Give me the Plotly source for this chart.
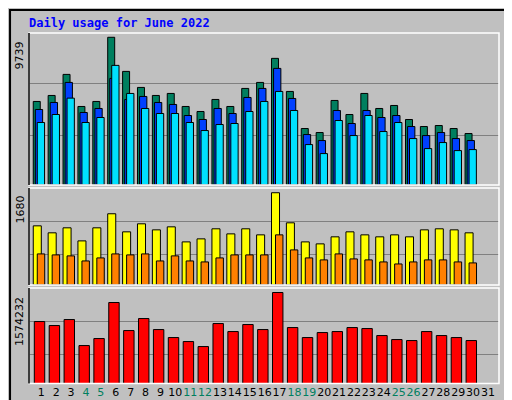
import plotly.graph_objects as go

days = list(range(1, 32))
hits = [5508, 5904, 7292, 5177, 5508, 9739, 7490, 6433, 5904, 6036, 5177, 4847, 5640, 5177, 6367,
        6763, 8349, 6168, 3723, 3459, 5574, 4648, 6036, 5045, 5243, 4318, 3855, 3921, 3723, 3393]
files = [4979, 5441, 6763, 4781, 5045, 7028, 5640, 5838, 5441, 5309, 4582, 4318, 5045, 4714, 5772,
         6367, 7688, 5706, 3327, 2930, 4913, 4054, 4913, 4450, 4582, 3855, 3260, 3459, 3062, 2930]
pages = [4120, 4648, 5728, 4120, 4450, 7887, 6036, 5045, 4714, 4714, 4120, 3591, 3987, 4054, 4847,
         5508, 6168, 4913, 2666, 2071, 4252, 3260, 4582, 3525, 4120, 3062, 2401, 2798, 2269, 2335]
visits = [1077, 950, 1041, 803, 1041, 1297, 968, 1114, 1004, 1059, 785, 840, 1023, 931, 1023,
          913, 1680, 1132, 785, 749, 877, 968, 913, 877, 913, 877, 1004, 1023, 1004, 950]
sites = [566, 548, 530, 438, 493, 566, 548, 566, 438, 530, 438, 420, 493, 548, 548,
         548, 913, 639, 493, 457, 566, 475, 457, 420, 383, 420, 457, 457, 420, 402]
kbytes = [1072476, 1003284, 1107072, 657324, 778410, 1401138, 916794, 1124370, 934092, 795708,
          726516, 640026, 1037880, 899496, 1020582, 934092, 1574232, 968688, 795708, 882198,
          899496, 968688, 951390, 830304, 761112, 743814, 899496, 830304, 795708, 743814]
weekends = [4, 5, 11, 12, 18, 19, 25, 26]

GRAY = "#c0c0c0"
x = days[:30]

fig = go.Figure()

def bars(vals, color, offset, width, axis):
    fig.add_trace(go.Bar(x=x, y=vals, marker=dict(color=color, line=dict(color="black", width=1)),
                         offset=offset, width=width, xaxis="x", yaxis=axis, hoverinfo="y"))

bars(hits, "#007f5f", -0.54, 0.47, "y")
bars(files, "#0040ff", -0.40, 0.49, "y")
bars(pages, "#00e0ff", -0.27, 0.49, "y")
bars(visits, "#ffff00", -0.54, 0.54, "y2")
bars(sites, "#ff8000", -0.27, 0.5, "y2")
bars(kbytes, "#ff0000", -0.47, 0.7, "y3")

ticktext = [f'<span style="color:#007f5f">{d}</span>' if d in weekends else str(d) for d in days]

yax = dict(showticklabels=False, showline=False, zeroline=False, gridcolor="#808080", gridwidth=1,
           fixedrange=True)
fig.update_layout(
    width=512, height=400, margin=dict(l=0, r=0, t=0, b=0),
    paper_bgcolor=GRAY, plot_bgcolor=GRAY, showlegend=False, barmode="overlay",
    font=dict(family="DejaVu Sans", size=11, color="black"),
    xaxis=dict(domain=[21 / 512, 491 / 512], range=[0.174, 31.74], tickvals=days, ticktext=ticktext,
               tickangle=0, ticks="", showgrid=False, zeroline=False, anchor="y3",
               tickfont=dict(size=11)),
    yaxis=dict(domain=[0.5575, 0.9375], range=[0, 10022], tickvals=[3297, 6660], **yax),
    yaxis2=dict(domain=[0.3075, 0.55], range=[0, 1766], tickvals=[548, 1150], **yax),
    yaxis3=dict(domain=[0.061, 0.3], range=[0, 1652101], tickvals=[505000, 1072580], **yax),
)

# panel frames
for y0, y1 in [(0.5575, 0.9375), (0.3075, 0.55), (0.061, 0.3)]:
    fig.add_shape(type="rect", xref="paper", yref="paper", x0=21 / 512, x1=491 / 512, y0=y0, y1=y1,
                  line=dict(color="white", width=1.5))
    fig.add_shape(type="line", xref="paper", yref="paper", x0=21 / 512, x1=21 / 512, y0=y0, y1=y1,
                  line=dict(color="black", width=1.5))

# outer frame
fig.add_shape(type="rect", xref="paper", yref="paper", x0=0.004, x1=0.996, y0=0.005, y1=0.995,
              line=dict(color="black", width=2))
fig.add_shape(type="line", xref="paper", yref="paper", x0=0.99, x1=0.99, y0=0.01, y1=0.985,
              line=dict(color="#808080", width=4))
fig.add_shape(type="line", xref="paper", yref="paper", x0=0.01, x1=0.99, y0=0.012, y1=0.012,
              line=dict(color="#808080", width=4))

mono = "DejaVu Sans Mono"
fig.add_annotation(text="<b>Daily usage for June 2022</b>", x=19 / 512, y=1 - 15 / 400, xref="paper",
                   yref="paper", xanchor="left", yanchor="middle", showarrow=False,
                   font=dict(family=mono, size=12, color="#0000ff"))

for txt, ypx in [("9739", 32), ("1680", 186), ("1574232", 287)]:
    fig.add_annotation(text=txt, x=3 / 512, y=1 - ypx / 400, xref="paper", yref="paper",
                       textangle=-90, xanchor="left", yanchor="top", showarrow=False,
                       font=dict(family="DejaVu Sans", size=11, color="black"))

right = [
    ('<span style="color:#00e0ff">Pages</span> / <span style="color:#0040ff">Files</span> / '
     '<span style="color:#007f5f">Hits</span>', 28),
    ('<span style="color:#ff8000">Sites</span> / <span style="color:#ffff00">Visits</span>', 197),
    ('<span style="color:#ff0000">KBytes</span>', 340),
]
for txt, ypx in right:
    fig.add_annotation(text=txt, x=493 / 512, y=1 - ypx / 400, xref="paper", yref="paper",
                       textangle=-90, xanchor="left", yanchor="top", showarrow=False,
                       font=dict(family=mono, size=11, color="black"))

fig.write_html("out.html")
